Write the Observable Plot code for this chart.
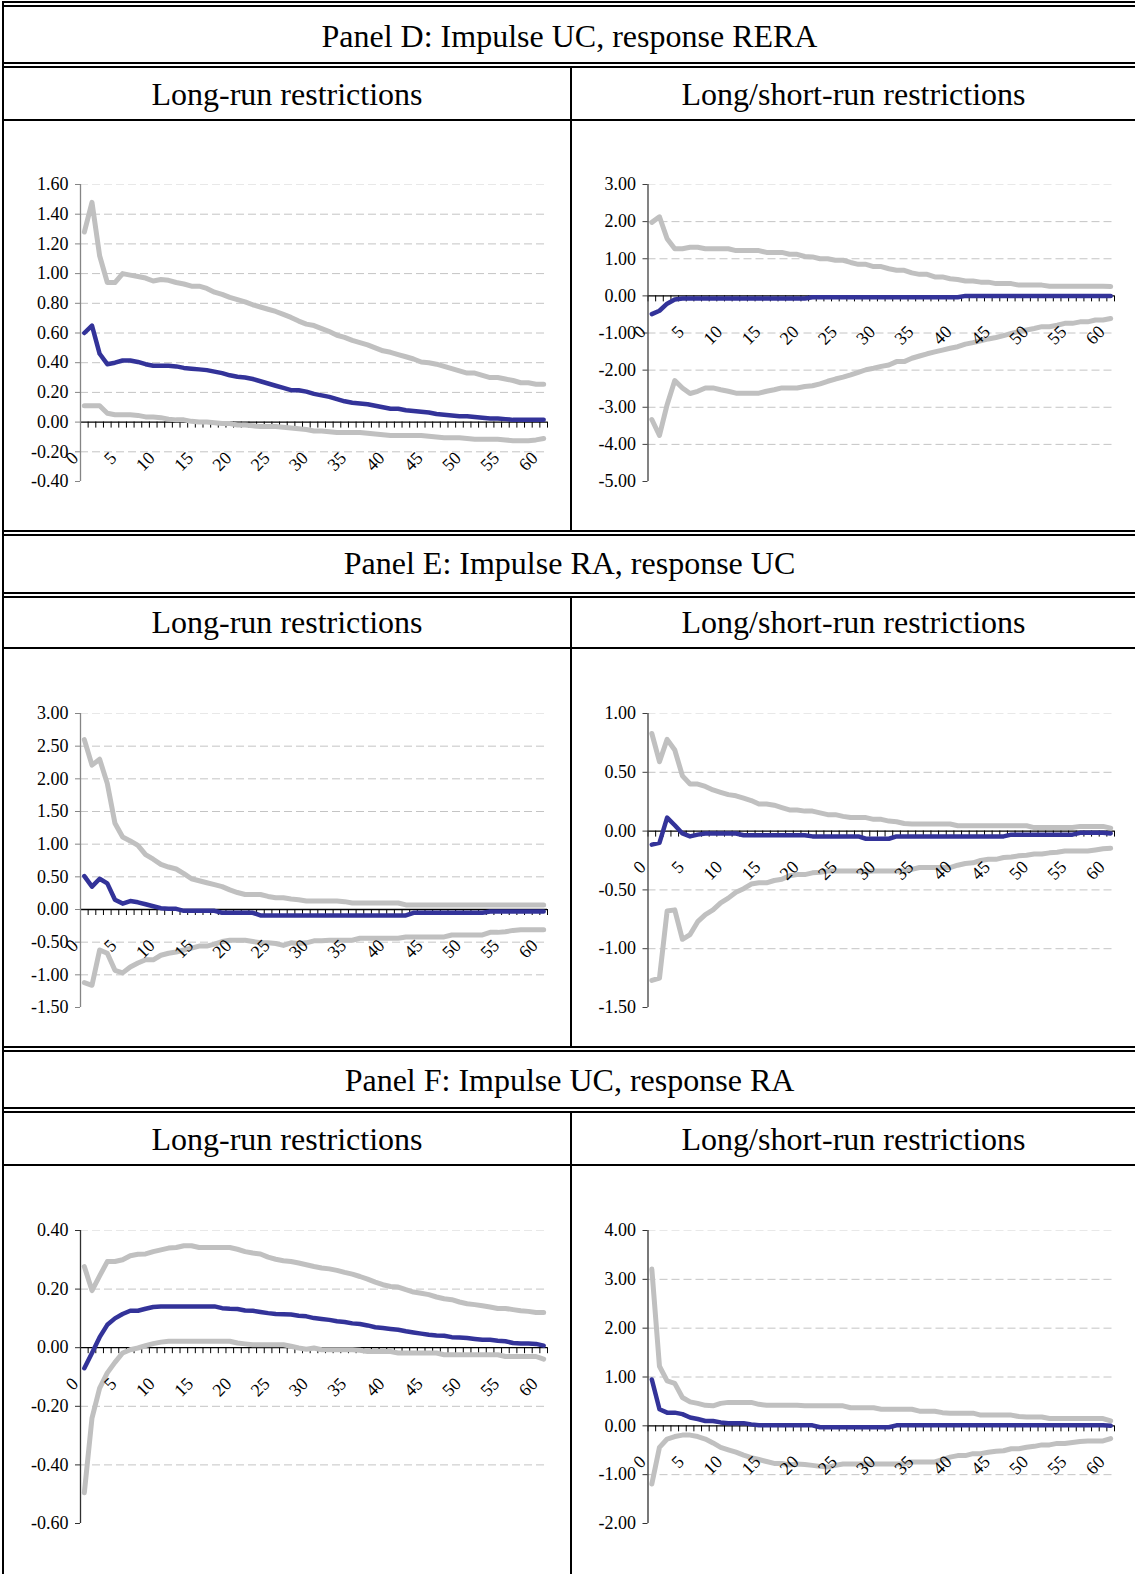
<!DOCTYPE html>
<html><head><meta charset="utf-8">
<script src="https://cdn.jsdelivr.net/npm/d3@7"></script>
<script src="https://cdn.jsdelivr.net/npm/@observablehq/plot@0.6"></script>
<style>
body{margin:0;background:#fff;}
#page{position:relative;width:1135px;height:1574px;overflow:hidden;background:#fff;font-family:"Liberation Serif","Times New Roman",serif;color:#000;}
.hl{position:absolute;left:2px;width:1133px;height:2px;background:#000;}
.vl{position:absolute;width:2px;background:#000;}
.t{position:absolute;font-size:32px;line-height:32px;height:32px;text-align:center;white-space:nowrap;}
.chart{position:absolute;}
</style></head><body><div id="page"></div>
<script>
// ---------- data ----------
const periods = [0,1,2,3,4,5,6,7,8,9,10,11,12,13,14,15,16,17,18,19,20,21,22,23,24,25,26,27,28,29,30,31,32,33,34,35,36,37,38,39,40,41,42,43,44,45,46,47,48,49,50,51,52,53,54,55,56,57,58,59,60];
const xTickLabels = [0,5,10,15,20,25,30,35,40,45,50,55,60];

const panelTitles = ["Panel D: Impulse UC, response RERA","Panel E: Impulse RA, response UC","Panel F: Impulse UC, response RA"];
const columnTitles = ["Long-run restrictions","Long/short-run restrictions"];

// Panel D, long-run
const dLongUpper = [1.28,1.48,1.12,0.94,0.94,1.00,0.99,0.98,0.97,0.95,0.96,0.955,0.94,0.93,0.915,0.915,0.90,0.875,0.86,0.84,0.825,0.81,0.79,0.775,0.76,0.745,0.725,0.705,0.68,0.66,0.65,0.63,0.61,0.585,0.57,0.55,0.535,0.52,0.50,0.48,0.47,0.455,0.44,0.425,0.405,0.40,0.39,0.375,0.36,0.345,0.33,0.33,0.315,0.30,0.30,0.29,0.28,0.265,0.265,0.255,0.255];
const dLongIrf = [0.60,0.65,0.46,0.39,0.40,0.415,0.415,0.405,0.39,0.38,0.38,0.38,0.375,0.365,0.36,0.355,0.35,0.34,0.33,0.315,0.305,0.30,0.29,0.275,0.26,0.245,0.23,0.215,0.215,0.205,0.19,0.18,0.17,0.155,0.14,0.13,0.125,0.12,0.11,0.10,0.09,0.09,0.08,0.075,0.07,0.065,0.055,0.05,0.045,0.04,0.04,0.035,0.03,0.025,0.025,0.02,0.015,0.015,0.015,0.015,0.015];
const dLongLower = [0.11,0.11,0.11,0.06,0.05,0.05,0.05,0.045,0.035,0.035,0.03,0.02,0.015,0.015,0.005,0,0,-0.005,-0.01,-0.01,-0.02,-0.02,-0.025,-0.03,-0.03,-0.03,-0.035,-0.04,-0.045,-0.05,-0.06,-0.06,-0.065,-0.07,-0.07,-0.07,-0.07,-0.075,-0.08,-0.085,-0.09,-0.09,-0.09,-0.09,-0.09,-0.095,-0.1,-0.105,-0.105,-0.105,-0.11,-0.115,-0.115,-0.115,-0.115,-0.12,-0.125,-0.125,-0.125,-0.12,-0.11];
const dLongTicks = [-0.4,-0.2,0,0.2,0.4,0.6,0.8,1.0,1.2,1.4,1.6];

// Panel D, long/short-run
const dShortUpper = [1.98,2.13,1.54,1.27,1.27,1.31,1.31,1.27,1.27,1.27,1.27,1.22,1.22,1.22,1.22,1.17,1.17,1.17,1.12,1.12,1.06,1.05,1.00,1.00,0.96,0.96,0.90,0.85,0.85,0.79,0.79,0.73,0.69,0.69,0.62,0.58,0.58,0.51,0.51,0.46,0.44,0.40,0.40,0.37,0.37,0.33,0.33,0.33,0.29,0.29,0.29,0.29,0.26,0.26,0.26,0.26,0.26,0.26,0.26,0.26,0.25];
const dShortIrf = [-0.49,-0.40,-0.21,-0.10,-0.07,-0.07,-0.07,-0.07,-0.07,-0.07,-0.07,-0.07,-0.07,-0.07,-0.07,-0.07,-0.07,-0.07,-0.07,-0.07,-0.07,-0.035,-0.035,-0.035,-0.035,-0.035,-0.035,-0.035,-0.035,-0.035,-0.035,-0.035,-0.035,-0.035,-0.035,-0.035,-0.035,-0.035,-0.035,-0.035,-0.035,0,0,0,0,0,0,0,0,0,0,0,0,0,0,0,0,0,0,0,0];
const dShortLower = [-3.33,-3.76,-2.93,-2.28,-2.48,-2.63,-2.57,-2.48,-2.48,-2.53,-2.57,-2.62,-2.62,-2.62,-2.62,-2.57,-2.53,-2.48,-2.48,-2.48,-2.44,-2.42,-2.37,-2.30,-2.24,-2.19,-2.13,-2.06,-1.99,-1.95,-1.90,-1.86,-1.77,-1.77,-1.68,-1.62,-1.56,-1.51,-1.46,-1.41,-1.37,-1.30,-1.26,-1.21,-1.16,-1.12,-1.07,-1.01,-0.96,-0.92,-0.88,-0.83,-0.83,-0.79,-0.74,-0.74,-0.70,-0.70,-0.65,-0.65,-0.61];
const dShortTicks = [-5,-4,-3,-2,-1,0,1,2,3];

// Panel E, long-run
const eLongUpper = [2.60,2.21,2.30,1.93,1.32,1.11,1.05,0.98,0.84,0.77,0.69,0.65,0.62,0.55,0.47,0.44,0.41,0.38,0.35,0.30,0.26,0.23,0.23,0.23,0.20,0.18,0.18,0.16,0.15,0.13,0.13,0.13,0.13,0.13,0.12,0.10,0.10,0.10,0.10,0.10,0.10,0.10,0.07,0.07,0.07,0.07,0.07,0.07,0.07,0.07,0.07,0.07,0.07,0.07,0.07,0.07,0.07,0.07,0.07,0.07,0.07];
const eLongIrf = [0.51,0.35,0.47,0.40,0.15,0.09,0.13,0.11,0.08,0.05,0.02,0.01,0.01,-0.02,-0.02,-0.02,-0.02,-0.02,-0.05,-0.05,-0.05,-0.05,-0.05,-0.09,-0.09,-0.09,-0.09,-0.09,-0.09,-0.09,-0.09,-0.09,-0.09,-0.09,-0.09,-0.09,-0.09,-0.09,-0.09,-0.09,-0.09,-0.09,-0.09,-0.05,-0.05,-0.05,-0.05,-0.05,-0.05,-0.05,-0.05,-0.05,-0.05,-0.03,-0.03,-0.03,-0.03,-0.03,-0.03,-0.03,-0.03];
const eLongLower = [-1.12,-1.16,-0.62,-0.67,-0.93,-0.97,-0.88,-0.82,-0.77,-0.77,-0.70,-0.67,-0.65,-0.62,-0.59,-0.56,-0.56,-0.53,-0.49,-0.47,-0.47,-0.47,-0.49,-0.51,-0.51,-0.52,-0.55,-0.51,-0.52,-0.51,-0.48,-0.48,-0.47,-0.47,-0.47,-0.47,-0.44,-0.44,-0.44,-0.44,-0.44,-0.44,-0.42,-0.42,-0.42,-0.42,-0.42,-0.42,-0.39,-0.39,-0.39,-0.39,-0.39,-0.35,-0.35,-0.34,-0.32,-0.31,-0.31,-0.31,-0.31];
const eLongTicks = [-1.5,-1.0,-0.5,0,0.5,1.0,1.5,2.0,2.5,3.0];

// Panel E, long/short-run
const eShortUpper = [0.83,0.59,0.78,0.69,0.47,0.40,0.40,0.38,0.35,0.33,0.31,0.30,0.28,0.26,0.23,0.23,0.22,0.20,0.18,0.18,0.17,0.17,0.155,0.14,0.14,0.125,0.115,0.115,0.115,0.10,0.10,0.085,0.08,0.065,0.06,0.06,0.06,0.06,0.06,0.06,0.045,0.045,0.045,0.045,0.045,0.045,0.045,0.045,0.045,0.045,0.03,0.03,0.03,0.03,0.03,0.03,0.04,0.04,0.04,0.04,0.025];
const eShortIrf = [-0.115,-0.10,0.115,0.05,-0.02,-0.045,-0.03,-0.02,-0.02,-0.02,-0.02,-0.02,-0.035,-0.035,-0.035,-0.035,-0.035,-0.035,-0.035,-0.035,-0.035,-0.045,-0.045,-0.045,-0.045,-0.045,-0.045,-0.045,-0.065,-0.065,-0.065,-0.065,-0.045,-0.045,-0.045,-0.045,-0.045,-0.045,-0.045,-0.045,-0.045,-0.045,-0.045,-0.045,-0.045,-0.045,-0.045,-0.03,-0.03,-0.03,-0.03,-0.03,-0.03,-0.03,-0.03,-0.03,-0.015,-0.015,-0.015,-0.015,-0.02];
const eShortLower = [-1.27,-1.25,-0.68,-0.67,-0.92,-0.88,-0.77,-0.71,-0.67,-0.61,-0.57,-0.52,-0.49,-0.45,-0.44,-0.44,-0.42,-0.41,-0.38,-0.37,-0.37,-0.355,-0.35,-0.34,-0.34,-0.34,-0.34,-0.34,-0.345,-0.34,-0.34,-0.34,-0.34,-0.34,-0.325,-0.31,-0.31,-0.31,-0.31,-0.31,-0.29,-0.275,-0.27,-0.25,-0.24,-0.24,-0.225,-0.22,-0.21,-0.205,-0.195,-0.195,-0.185,-0.18,-0.17,-0.17,-0.17,-0.17,-0.16,-0.15,-0.145];
const eShortTicks = [-1.5,-1.0,-0.5,0,0.5,1.0];

// Panel F, long-run
const fLongUpper = [0.277,0.195,0.245,0.294,0.294,0.30,0.314,0.319,0.32,0.328,0.334,0.34,0.342,0.348,0.348,0.342,0.342,0.342,0.342,0.342,0.336,0.328,0.323,0.32,0.309,0.302,0.297,0.294,0.289,0.283,0.277,0.272,0.269,0.264,0.257,0.251,0.243,0.234,0.224,0.215,0.209,0.207,0.198,0.19,0.186,0.181,0.173,0.167,0.164,0.156,0.15,0.147,0.143,0.139,0.134,0.134,0.13,0.126,0.124,0.12,0.12];
const fLongIrf = [-0.07,-0.018,0.036,0.078,0.10,0.115,0.126,0.126,0.133,0.139,0.141,0.141,0.141,0.141,0.141,0.141,0.141,0.141,0.135,0.133,0.132,0.127,0.126,0.122,0.118,0.115,0.114,0.113,0.109,0.107,0.101,0.098,0.095,0.09,0.088,0.083,0.081,0.076,0.07,0.067,0.064,0.061,0.056,0.052,0.048,0.044,0.042,0.041,0.036,0.035,0.033,0.03,0.027,0.027,0.024,0.022,0.016,0.014,0.014,0.013,0.007];
const fLongLower = [-0.495,-0.24,-0.138,-0.086,-0.05,-0.018,-0.007,-0.001,0.007,0.014,0.019,0.022,0.022,0.022,0.022,0.022,0.022,0.022,0.022,0.022,0.016,0.013,0.01,0.01,0.01,0.01,0.01,0.005,-0.001,-0.005,-0.001,-0.007,-0.007,-0.007,-0.007,-0.007,-0.009,-0.013,-0.013,-0.013,-0.013,-0.018,-0.018,-0.018,-0.018,-0.018,-0.018,-0.024,-0.024,-0.024,-0.024,-0.024,-0.024,-0.024,-0.024,-0.03,-0.03,-0.03,-0.03,-0.03,-0.039];
const fLongTicks = [-0.6,-0.4,-0.2,0,0.2,0.4];

// Panel F, long/short-run
const fShortUpper = [3.21,1.22,0.92,0.87,0.58,0.49,0.46,0.42,0.41,0.46,0.48,0.48,0.48,0.48,0.44,0.42,0.42,0.42,0.42,0.42,0.41,0.41,0.41,0.41,0.41,0.41,0.37,0.37,0.37,0.37,0.34,0.34,0.34,0.34,0.34,0.30,0.30,0.30,0.27,0.26,0.26,0.26,0.26,0.22,0.22,0.22,0.22,0.22,0.19,0.18,0.18,0.18,0.15,0.15,0.15,0.15,0.15,0.15,0.15,0.15,0.10];
const fShortIrf = [0.95,0.34,0.27,0.27,0.24,0.17,0.14,0.10,0.10,0.07,0.055,0.055,0.055,0.03,0.01,0.01,0.01,0.01,0.01,0.01,0.01,0.01,-0.03,-0.03,-0.03,-0.03,-0.03,-0.03,-0.03,-0.03,-0.03,-0.03,0.01,0.01,0.01,0.01,0.01,0.01,0.01,0.01,0.01,0.01,0.01,0.01,0.01,0.01,0.01,0.01,0.01,0.01,0.01,0.01,0.01,0.01,0.01,0.01,0.01,0.01,0.01,0.01,0];
const fShortLower = [-1.19,-0.44,-0.27,-0.22,-0.19,-0.19,-0.22,-0.27,-0.35,-0.44,-0.49,-0.54,-0.60,-0.65,-0.69,-0.73,-0.77,-0.77,-0.80,-0.78,-0.79,-0.81,-0.83,-0.845,-0.81,-0.78,-0.78,-0.78,-0.78,-0.78,-0.78,-0.78,-0.78,-0.78,-0.74,-0.74,-0.74,-0.74,-0.69,-0.64,-0.61,-0.61,-0.57,-0.57,-0.54,-0.52,-0.51,-0.47,-0.47,-0.44,-0.42,-0.39,-0.39,-0.36,-0.36,-0.34,-0.32,-0.31,-0.31,-0.31,-0.26];
const fShortTicks = [-2,-1,0,1,2,3,4];

// ---------- layout ----------
const page = document.getElementById("page");
function addDiv(cls, css, text) {
  const d = document.createElement("div");
  d.className = cls;
  Object.assign(d.style, css);
  if (text != null) d.textContent = text;
  page.appendChild(d);
  return d;
}
// horizontal rules
[1, 5, 62, 66, 119, 530, 534, 592, 596, 647, 1046, 1050, 1107, 1111, 1164].forEach(y => addDiv("hl", {top: y + "px"}));
// left border
addDiv("vl", {left: "2px", top: "1px", height: "1573px"});
// column dividers
[[66, 532], [596, 1048], [1111, 1574]].forEach(([a, b]) => addDiv("vl", {left: "570px", top: a + "px", height: (b - a) + "px"}));

// titles
const titleTops = [20, 547, 1064];
const subTops = [78, 606, 1123];
panelTitles.forEach((t, i) => {
  addDiv("t", {left: "4px", width: "1131px", top: titleTops[i] + "px"}, t);
  addDiv("t", {left: "4px", width: "566px", top: subTops[i] + "px"}, columnTitles[0]);
  addDiv("t", {left: "572px", width: "563px", top: subTops[i] + "px"}, columnTitles[1]);
});

// ---------- charts ----------
const FONT = "Liberation Serif, Times New Roman, serif";
function irfChart(o) {
  const rows = arr => periods.map((p, i) => ({p, v: arr[i]}));
  const x0 = periods[0] - 0.5, x1 = periods[periods.length - 1] + 0.5;
  const bounds = periods.map(p => p - 0.5).concat([x1]);
  const yMin = o.ticks[0], yMax = o.ticks[o.ticks.length - 1];
  const grid = o.ticks.filter(t => t !== 0 && t !== yMin && t !== yMax);
  return Plot.plot({
    width: o.width, height: o.height,
    marginTop: o.mt, marginBottom: o.mb, marginLeft: o.ml, marginRight: o.mr,
    x: {domain: [x0, x1], axis: null},
    y: {domain: [yMin, yMax], axis: null},
    style: {fontFamily: FONT, fontSize: "18px", background: "transparent", color: "#000", overflow: "visible"},
    marks: [
      Plot.ruleY([yMax], {x1: x0, x2: x1, stroke: "#e8e8e8", strokeDasharray: "8,4"}),
      Plot.ruleY(grid, {x1: x0, x2: x1, stroke: "#c4c4c4", strokeDasharray: "8,4"}),
      Plot.ruleY([0], {x1: x0, x2: x1, stroke: "#000", strokeWidth: 1.3}),
      Plot.ruleX(bounds, {x: d => d, y1: 0, y2: 0, insetBottom: -6, stroke: "#000"}),
      Plot.line(rows(o.upper), {x: "p", y: "v", stroke: "#c0c0c0", strokeWidth: 5, strokeLinejoin: "round", strokeLinecap: "round"}),
      Plot.line(rows(o.lower), {x: "p", y: "v", stroke: "#c0c0c0", strokeWidth: 5, strokeLinejoin: "round", strokeLinecap: "round"}),
      Plot.line(rows(o.irf), {x: "p", y: "v", stroke: "#333399", strokeWidth: 4.5, strokeLinejoin: "round", strokeLinecap: "round"}),
      Plot.ruleX([x0], {y1: yMin, y2: yMax, stroke: o.axisColor, strokeWidth: 1.3}),
      Plot.ruleY(o.ticks, {x1: x0, x2: x0, insetLeft: -5, stroke: o.axisColor}),
      Plot.text(o.ticks, {x: x0, y: d => d, text: d => d.toFixed(2), textAnchor: "end", dx: -12, fontSize: 18}),
      Plot.text(xTickLabels, {x: d => d, y: 0, text: d => String(d), rotate: -45, textAnchor: "end", dx: -9, dy: 33, fontSize: 18})
    ]
  });
}

const rowsLayout = [
  {top: 121, height: 409, mt: 63, mb: 49},
  {top: 649, height: 397, mt: 64, mb: 39},
  {top: 1166, height: 408, mt: 64, mb: 51}
];
const charts = [
  {row: 0, col: 0, upper: dLongUpper, irf: dLongIrf, lower: dLongLower, ticks: dLongTicks, axisColor: "#858585"},
  {row: 0, col: 1, upper: dShortUpper, irf: dShortIrf, lower: dShortLower, ticks: dShortTicks, axisColor: "#404040"},
  {row: 1, col: 0, upper: eLongUpper, irf: eLongIrf, lower: eLongLower, ticks: eLongTicks, axisColor: "#858585"},
  {row: 1, col: 1, upper: eShortUpper, irf: eShortIrf, lower: eShortLower, ticks: eShortTicks, axisColor: "#404040"},
  {row: 2, col: 0, upper: fLongUpper, irf: fLongIrf, lower: fLongLower, ticks: fLongTicks, axisColor: "#303030"},
  {row: 2, col: 1, upper: fShortUpper, irf: fShortIrf, lower: fShortLower, ticks: fShortTicks, axisColor: "#303030"}
];
charts.forEach(c => {
  const r = rowsLayout[c.row];
  const left = c.col === 0 ? 4 : 572;
  const width = c.col === 0 ? 566 : 563;
  const ml = c.col === 0 ? 76 : 75.5;
  const mr = c.col === 0 ? 23 : 21;
  const svg = irfChart({...c, width, height: r.height, mt: r.mt, mb: r.mb, ml, mr});
  const holder = addDiv("chart", {left: left + "px", top: r.top + "px", width: width + "px", height: r.height + "px"});
  holder.appendChild(svg);
});
</script>
</body></html>
